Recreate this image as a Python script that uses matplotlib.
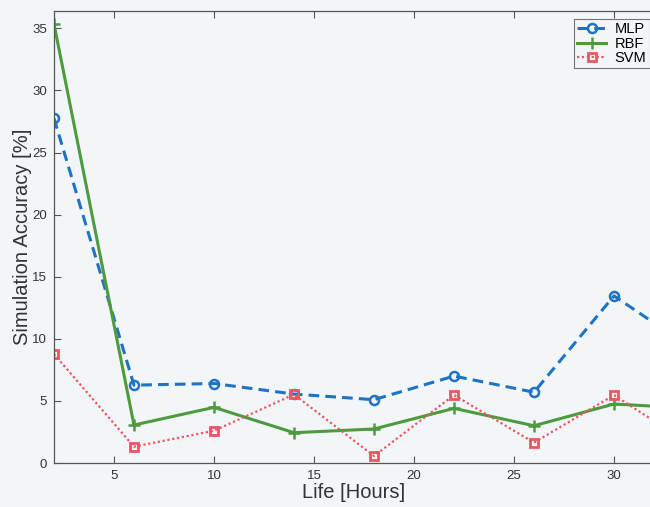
import matplotlib
matplotlib.use('Agg')
import matplotlib.pyplot as plt

# Accuracy per network type over life hours
hours = [2, 6, 10, 14, 18, 22, 26, 30, 34]
mlp = [27.75, 6.27, 6.4, 5.55, 5.1, 7.0, 5.7, 13.46, 9.1]
rbf = [35.35, 3.06, 4.48, 2.44, 2.74, 4.4, 3.0, 4.75, 4.4]
svm = [8.77, 1.31, 2.6, 5.52, 0.56, 5.47, 1.64, 5.47, 1.3]
x_ticks = [5, 10, 15, 20, 25, 30]
y_ticks = [0, 5, 10, 15, 20, 25, 30, 35]

plt.rcParams['font.family'] = ['Liberation Sans', 'DejaVu Sans']

bg = '#f3f6f9'
fig = plt.figure(figsize=(6.5, 5.07), dpi=100, facecolor=bg)
# axes runs a little past the right border of the figure
ax = fig.add_axes([54 / 650, 44 / 507, 600 / 650, 452 / 507], facecolor=bg)

ax.plot(hours, mlp, color='#1f72c4', ls=(0, (3.5, 2)), lw=2.2, marker='o',
        ms=6.5, mfc='none', mew=1.8, label='MLP')
ax.plot(hours, rbf, color='#4e9a3e', ls='-', lw=2.2, marker='+',
        ms=8, mew=1.8, label='RBF')
ax.plot(hours, svm, color='#ee5560', ls=(0, (1, 1.2)), lw=1.6, marker='s',
        ms=6, mfc='none', mew=2, label='SVM')

ax.set_xlim(2, 32)
ax.set_ylim(0, 36.4)
ax.set_xticks(x_ticks)
ax.set_yticks(y_ticks)
ax.tick_params(direction='in', top=True, right=False, length=5, width=0.8,
               labelsize=9.5, colors='#555555', labelcolor='#333333', pad=5)
for s in ax.spines.values():
    s.set_color('#555555')
    s.set_linewidth(0.9)

ax.set_xlabel('Life [Hours]', fontsize=14.5, color='#333333', labelpad=1)
ax.set_ylabel('Simulation Accuracy [%]', fontsize=14.5, color='#333333', labelpad=0)

leg = ax.legend(loc='upper left', bbox_to_anchor=(574 / 650, 1 - 19 / 507),
                bbox_transform=fig.transFigure, fontsize=10.5, frameon=True,
                fancybox=False, borderpad=0.2, labelspacing=0.05,
                handlelength=2.0, handletextpad=0.6, borderaxespad=0)
leg.get_frame().set_edgecolor('#555555')
leg.get_frame().set_facecolor(bg)
leg.get_frame().set_linewidth(0.8)

fig.savefig('out.png', dpi=100, facecolor=bg)
